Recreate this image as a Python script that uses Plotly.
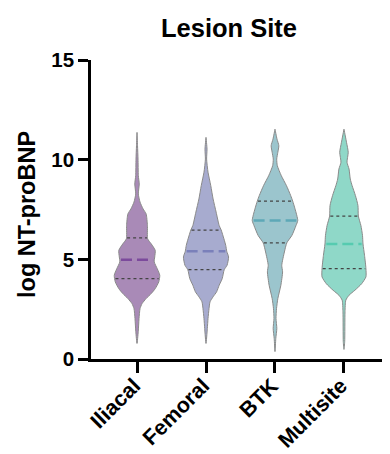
import numpy as np
import plotly.graph_objects as go

categories = ["Iliacal", "Femoral", "BTK", "Multisite"]

# density profiles (y value, relative half-width)
iliacal_y = [0.78, 1.37, 2.03, 2.53, 2.78, 3.03, 3.28, 3.53, 3.87, 4.2, 4.53, 4.87, 5.12, 5.45, 5.78,
             6.03, 6.7, 7.28, 7.53, 7.87, 8.28, 8.78, 9.2, 10.03, 10.7, 11.37]
iliacal_d = [0, 1.2, 2, 3, 5, 9, 14, 18, 21.5, 22.5, 20, 17, 17.5, 18, 14,
             10.5, 10.3, 9, 6, 3, 1.3, 2.2, 1.3, 1.0, 0.5, 0]

femoral_y = [0.78, 1.53, 2.03, 2.53, 2.87, 3.12, 3.37, 3.7, 4.03, 4.48, 4.7, 5.12, 5.4, 5.7, 6.03,
             6.47, 6.7, 7.37, 8.03, 8.7, 9.37, 10.03, 10.53, 11.12]
femoral_d = [0, 1.3, 2, 3, 4, 7, 10.5, 13, 16, 18, 20.8, 22.3, 20.5, 19.5, 17.7,
             15, 13, 10, 7, 4.7, 2, 0.6, 1.0, 0]

btk_y = [0.37, 1.03, 1.53, 2.03, 2.53, 3.03, 3.7, 4.37, 4.7, 5.37, 5.83, 6.2, 6.7, 6.95, 7.53,
         7.92, 8.2, 8.7, 9.2, 9.7, 10.03, 10.37, 10.7, 11.03, 11.53]
btk_d = [0, 0.8, 1.8, 1, 1.5, 2.8, 5.8, 7.5, 6.7, 9.3, 11.7, 16.7, 20.8, 22.5, 19.8,
         17.5, 15.5, 11.3, 6.2, 2.3, 1.7, 2.8, 3.8, 2, 0]

multisite_y = [0.48, 0.87, 2.37, 2.95, 3.2, 3.45, 3.78, 4.12, 4.53, 5.2, 5.77, 6.2, 6.7, 7.17, 7.7,
               8.2, 8.7, 9.03, 9.53, 9.87, 10.37, 10.87, 11.53]
multisite_d = [0, 0.7, 1, 1.8, 5, 10.8, 17.5, 21.7, 21.7, 20.3, 18.8, 18.3, 16.7, 14.2, 13.8,
               11.3, 8, 6.2, 5, 3, 4.2, 2.5, 0]

# quartiles (Q1, median, Q3)
q1 = [4.03, 4.48, 5.83, 4.53]
median = [4.98, 5.40, 6.95, 5.77]
q3 = [6.08, 6.47, 7.92, 7.17]

profiles_y = [iliacal_y, femoral_y, btk_y, multisite_y]
profiles_d = [iliacal_d, femoral_d, btk_d, multisite_d]

fill_colors = ["#a98ab7", "#a7abcf", "#9bc5cd", "#8fd8c8"]
median_colors = ["#7c4a9c", "#7a80ba", "#5ea8b7", "#56cbb0"]

FONT = "Arial, Liberation Sans, sans-serif"
max_half = 0.33
dmax = max(max(d) for d in profiles_d)

# page body has an 8px margin; figure is sized/placed to compensate
OFF = 8
W, H = 390 - OFF, 454 - OFF
L, T = 91 - OFF, 60 - OFF
PH = 299
PW = W - L

fig = go.Figure()
for i, (ys, ds) in enumerate(zip(profiles_y, profiles_d)):
    ys = np.array(ys)
    ws = np.array(ds) / dmax * max_half
    xs = np.concatenate([i + ws, (i - ws)[::-1]])
    yy = np.concatenate([ys, ys[::-1]])
    fig.add_trace(go.Scatter(x=xs, y=yy, mode="lines", fill="toself",
                             fillcolor=fill_colors[i],
                             line=dict(color="#8a8a8a", width=1, shape="spline", smoothing=0.6),
                             hoverinfo="skip", showlegend=False))
    for q, style in [(q1[i], "q"), (q3[i], "q"), (median[i], "m")]:
        w = np.interp(q, ys, ws)
        if style == "q":
            fig.add_trace(go.Scatter(x=[i - w + 0.01, i + w - 0.01], y=[q, q], mode="lines",
                                     line=dict(color="#444444", width=1.2, dash="dot"),
                                     hoverinfo="skip", showlegend=False))
        else:
            fig.add_trace(go.Scatter(x=[i - w + 0.02, i + w - 0.02], y=[q, q], mode="lines",
                                     line=dict(color=median_colors[i], width=2.5, dash="11px,5px"),
                                     hoverinfo="skip", showlegend=False))

fig.update_layout(
    width=W, height=H,
    margin=dict(l=L, r=0, t=T, b=H - T - PH, pad=0),
    plot_bgcolor="white", paper_bgcolor="white",
    font=dict(family=FONT, color="black"),
    title=dict(text="<b>Lesion Site</b>", x=(229 - OFF) / W, xref="container", xanchor="center",
               y=1 - (28 - OFF) / H, yref="container", yanchor="middle",
               font=dict(size=25.5, family=FONT, color="black")),
    xaxis=dict(range=[-0.667, 3.667], tickvals=list(range(len(categories))),
               ticktext=[f"<b>{c}</b>" for c in categories], tickangle=-45,
               showline=True, linecolor="black", linewidth=2.5,
               ticks="outside", ticklen=11, tickwidth=2.5, tickcolor="black",
               showgrid=False, zeroline=False, automargin=False,
               ticklabelstandoff=-8, ticklabelshift=-3,
               tickfont=dict(size=21.5, family=FONT, color="black")),
    yaxis=dict(range=[0, 15], tickvals=[0, 5, 10, 15],
               ticktext=["<b>0</b>", "<b>5</b>", "<b>10</b>", "<b>15</b>"],
               showline=True, linecolor="black", linewidth=2.5,
               ticks="outside", ticklen=10, tickwidth=2.5, tickcolor="black",
               showgrid=False, zeroline=False, automargin=False,
               tickfont=dict(size=20.5, family=FONT, color="black")),
    annotations=[dict(text="<b>log NT-proBNP</b>", xref="paper", yref="paper",
                      x=(27 - 91) / PW, y=(359 - 215) / PH, textangle=-90,
                      showarrow=False, xanchor="center", yanchor="middle",
                      font=dict(size=23.5, family=FONT, color="black"))],
)

fig.write_html("out.html")
